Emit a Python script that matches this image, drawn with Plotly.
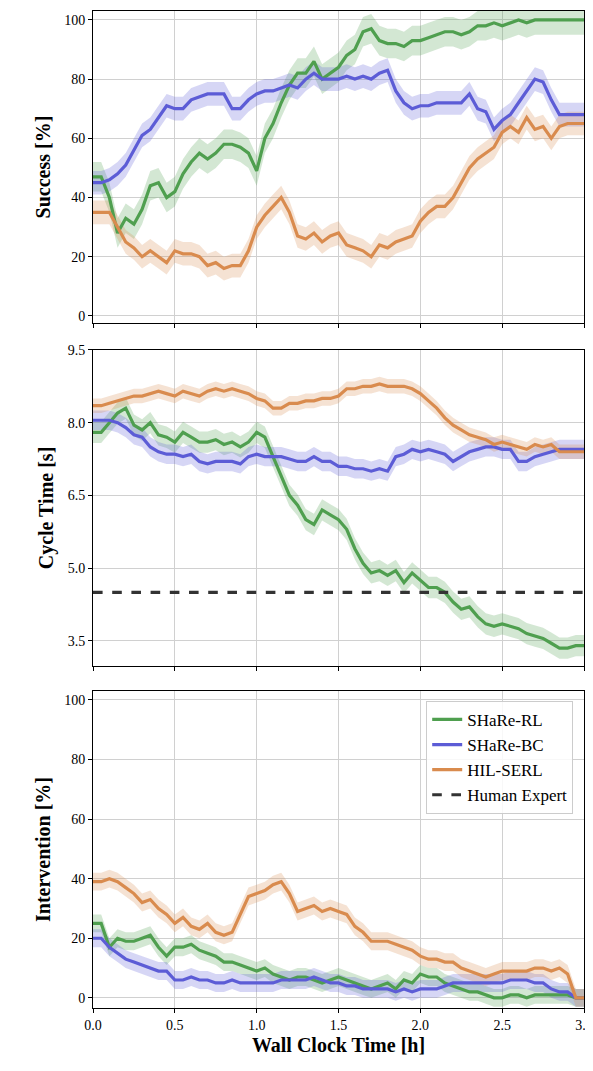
import numpy as np
import plotly.graph_objects as go

t = [round(i*0.05, 2) for i in range(61)]

succ_rl = [47,47,40,28,33,31,36,44,45,40,42,48,52,55,53,55,58,58,57,55,49,60,65,72,78,82,82,86,80,82,84,88,90,96,97,93,92,92,91,93,93,94,95,96,96,95,96,98,98,99,98,99,100,99,100,100,100,100,100,100,100]
succ_bc = [45,45,46,48,51,56,61,63,67,71,70,70,73,74,75,75,75,70,70,73,75,76,76,77,78,77,80,82,80,80,80,81,80,81,80,82,83,76,72,70,71,71,72,72,72,72,75,70,69,63,66,68,72,76,80,79,73,68,68,68,68]
succ_hil = [35,35,35,30,25,23,20,22,20,18,22,21,21,20,17,18,16,17,17,22,30,34,37,40,35,27,26,28,25,27,28,24,23,22,20,24,23,25,26,27,32,35,37,37,40,45,50,53,55,57,62,64,62,67,63,64,60,64,65,65,65]

cyc_rl = [7.8,7.8,8.0,8.2,8.3,7.95,7.85,8.0,7.75,7.7,7.6,7.8,7.7,7.6,7.6,7.65,7.55,7.6,7.5,7.6,7.8,7.7,7.3,6.9,6.5,6.3,6.0,5.9,6.2,6.1,6.0,5.8,5.4,5.1,4.9,4.95,4.85,4.95,4.7,4.9,4.75,4.6,4.6,4.5,4.3,4.15,4.2,4.0,3.85,3.8,3.85,3.8,3.75,3.65,3.6,3.55,3.45,3.35,3.35,3.4,3.4]
cyc_bc = [8.05,8.05,8.05,8.0,7.9,7.75,7.7,7.5,7.4,7.35,7.35,7.3,7.35,7.2,7.15,7.2,7.2,7.2,7.15,7.3,7.35,7.3,7.3,7.3,7.25,7.2,7.2,7.3,7.2,7.2,7.1,7.1,7.05,7.05,7.0,7.05,7.0,7.3,7.35,7.45,7.4,7.45,7.4,7.35,7.2,7.3,7.4,7.45,7.5,7.5,7.45,7.45,7.2,7.2,7.3,7.35,7.4,7.45,7.45,7.45,7.45]
cyc_hil = [8.35,8.35,8.4,8.45,8.5,8.55,8.55,8.6,8.65,8.6,8.55,8.65,8.6,8.55,8.65,8.7,8.65,8.7,8.65,8.6,8.5,8.45,8.3,8.3,8.4,8.4,8.45,8.45,8.5,8.5,8.55,8.7,8.7,8.75,8.75,8.8,8.75,8.75,8.75,8.7,8.6,8.45,8.3,8.1,7.95,7.85,7.75,7.7,7.65,7.55,7.6,7.55,7.5,7.45,7.55,7.5,7.55,7.4,7.4,7.4,7.4]
human_expert = 4.5

int_rl = [25,25,17,20,19,19,20,21,17,14,17,17,18,16,15,14,12,12,11,10,9,10,8,7,6,7,7,6,5,6,7,6,5,4,3,4,5,3,6,5,8,7,7,5,4,3,2,2,1,0,0,1,1,0,1,1,1,1,1,0,0]
int_bc = [20,20,17,15,13,12,11,10,9,9,6,6,7,6,6,5,5,6,5,5,5,5,5,6,6,6,6,7,6,5,5,4,4,3,3,3,3,2,3,2,3,3,3,4,5,5,5,5,5,5,5,6,6,6,5,5,3,2,2,0,0]
int_hil = [39,39,40,39,37,35,32,33,30,28,25,27,24,23,25,22,21,22,28,34,35,36,38,39,35,29,30,31,29,30,29,28,24,22,19,19,19,18,17,16,14,13,13,12,12,10,9,8,7,8,9,9,9,9,10,10,9,10,8,0,0]

spread = {"succ": [5, 4, 4], "cyc": [0.22, 0.2, 0.15], "int": [3, 3, 3]}

names = ["SHaRe-RL", "SHaRe-BC", "HIL-SERL"]
colors = ["#4f9f4f", "#5c5cd6", "#d98b4e"]
fills = ["rgba(79,159,79,0.25)", "rgba(92,92,214,0.25)", "rgba(217,139,78,0.25)"]

fig = go.Figure()
panels = [("succ", [succ_rl, succ_bc, succ_hil], "y"), ("cyc", [cyc_rl, cyc_bc, cyc_hil], "y2"), ("int", [int_rl, int_bc, int_hil], "y3")]
for key, series, ya in panels:
    xa = {"y": "x", "y2": "x2", "y3": "x3"}[ya]
    for i, s in enumerate(series):
        s = np.array(s, dtype=float)
        d = spread[key][i]
        fig.add_trace(go.Scatter(x=t + t[::-1], y=list(s + d) + list((s - d)[::-1]), fill="toself",
                                 fillcolor=fills[i], line=dict(width=0), hoverinfo="skip",
                                 showlegend=False, xaxis=xa, yaxis=ya))
    for i, s in enumerate(series):
        fig.add_trace(go.Scatter(x=t, y=s, mode="lines", line=dict(color=colors[i], width=3.2),
                                 name=names[i], showlegend=(ya == "y3"), xaxis=xa, yaxis=ya))
    if key == "cyc":
        fig.add_trace(go.Scatter(x=[0, 3], y=[human_expert]*2, mode="lines",
                                 line=dict(color="#333333", width=3.2, dash="dash"),
                                 name="Human Expert", showlegend=False, xaxis=xa, yaxis=ya))
fig.add_trace(go.Scatter(x=[None], y=[None], mode="lines", line=dict(color="#333333", width=3.2, dash="dash"),
                         name="Human Expert", xaxis="x3", yaxis="y3"))

F = "Liberation Serif"
ax = dict(showline=True, linecolor="black", linewidth=1, mirror=True, showgrid=True, gridcolor="#d0d0d0",
          ticks="outside", ticklen=4, tickcolor="black", zeroline=False, automargin=False,
          tickfont=dict(size=14, family=F, color="black"))
xt = dict(range=[0, 3], tickvals=[0, 0.5, 1, 1.5, 2, 2.5, 3])
fig.update_layout(
    width=593, height=1071, margin=dict(l=85, r=17, t=3, b=71),
    plot_bgcolor="white", paper_bgcolor="white",
    font=dict(family=F, color="black"),
    xaxis=dict(**ax, **xt, anchor="y", showticklabels=False),
    xaxis2=dict(**ax, **xt, anchor="y2", showticklabels=False),
    xaxis3=dict(**ax, **xt, anchor="y3", tickformat=".1f",
                title=dict(text="<b>Wall Clock Time [h]</b>", font=dict(size=20, family=F), standoff=6)),
    yaxis=dict(**ax, domain=[0.687, 1.0], range=[-2.4, 103], tickvals=[0, 20, 40, 60, 80, 100],
               title=dict(text="<b>Success [%]</b>", font=dict(size=20, family=F), standoff=8)),
    yaxis2=dict(**ax, domain=[0.343, 0.66], range=[2.98, 9.5], tickvals=[3.5, 5, 6.5, 8, 9.5], tickformat=".1f",
                title=dict(text="<b>Cycle Time [s]</b>", font=dict(size=20, family=F), standoff=8)),
    yaxis3=dict(**ax, domain=[0.0, 0.318], range=[-3.4, 103], tickvals=[0, 20, 40, 60, 80, 100],
                title=dict(text="<b>Intervention [%]</b>", font=dict(size=20, family=F), standoff=8)),
    legend=dict(x=0.978, y=0.308, xanchor="right", yanchor="top", bgcolor="rgba(255,255,255,0.85)",
                bordercolor="#cccccc", borderwidth=1, font=dict(size=17, family=F), tracegroupgap=4),
)
fig.write_html("out.html")
